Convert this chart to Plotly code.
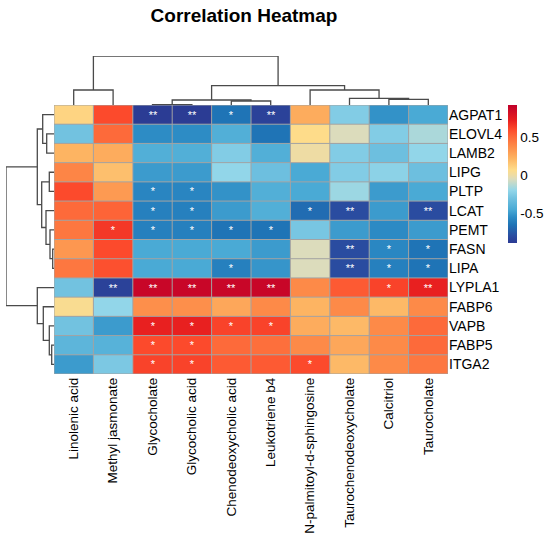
import plotly.graph_objects as go

# columns (metabolites) and rows (genes) in dendrogram order
metabolites = ["Linolenic acid", "Methyl jasmonate", "Glycocholate", "Glycocholic acid",
               "Chenodeoxycholic acid", "Leukotriene b4", "N-palmitoyl-d-sphingosine",
               "Taurochenodeoxycholate", "Calcitriol", "Taurocholate"]
genes = ["AGPAT1", "ELOVL4", "LAMB2", "LIPG", "PLTP", "LCAT", "PEMT",
         "FASN", "LIPA", "LYPLA1", "FABP6", "VAPB", "FABP5", "ITGA2"]

corr = [
    [0.10, 0.60, -0.88, -0.88, -0.65, -0.85, 0.25, -0.25, -0.53, -0.45],
    [-0.30, 0.50, -0.55, -0.55, -0.42, -0.65, 0.07, -0.05, -0.25, -0.15],
    [0.22, 0.25, -0.42, -0.42, -0.25, -0.42, 0.00, -0.25, -0.32, -0.20],
    [0.40, 0.18, -0.50, -0.50, -0.20, -0.32, -0.45, -0.25, -0.22, -0.32],
    [0.60, 0.32, -0.58, -0.58, -0.53, -0.42, -0.45, -0.18, -0.50, -0.45],
    [0.50, 0.52, -0.60, -0.60, -0.50, -0.42, -0.68, -0.80, -0.50, -0.80],
    [0.45, 0.65, -0.60, -0.60, -0.65, -0.65, -0.28, -0.50, -0.56, -0.50],
    [0.33, 0.60, -0.45, -0.45, -0.45, -0.50, -0.05, -0.80, -0.57, -0.65],
    [0.45, 0.58, -0.45, -0.45, -0.60, -0.52, -0.05, -0.80, -0.60, -0.65],
    [-0.30, -0.85, 0.88, 0.88, 0.88, 0.88, 0.38, 0.55, 0.62, 0.72],
    [0.05, -0.20, 0.36, 0.36, 0.27, 0.38, 0.22, 0.38, 0.20, 0.38],
    [-0.30, -0.50, 0.72, 0.72, 0.62, 0.62, 0.25, 0.20, 0.38, 0.50],
    [-0.38, -0.40, 0.60, 0.60, 0.50, 0.48, 0.38, 0.27, 0.38, 0.50],
    [-0.50, -0.27, 0.62, 0.62, 0.55, 0.55, 0.60, 0.20, 0.38, 0.45],
]

signif = [
    ["", "", "**", "**", "*", "**", "", "", "", ""],
    ["", "", "", "", "", "", "", "", "", ""],
    ["", "", "", "", "", "", "", "", "", ""],
    ["", "", "", "", "", "", "", "", "", ""],
    ["", "", "*", "*", "", "", "", "", "", ""],
    ["", "", "*", "*", "", "", "*", "**", "", "**"],
    ["", "*", "*", "*", "*", "*", "", "", "", ""],
    ["", "", "", "", "", "", "", "**", "*", "*"],
    ["", "", "", "", "*", "", "", "**", "*", "*"],
    ["", "**", "**", "**", "**", "**", "", "", "*", "**"],
    ["", "", "", "", "", "", "", "", "", ""],
    ["", "", "*", "*", "*", "*", "", "", "", ""],
    ["", "", "*", "*", "", "", "", "", "", ""],
    ["", "", "*", "*", "", "", "*", "", "", ""],
]

# linkage tables: (left id, right id, height); new clusters numbered after leaves
col_links = [(2, 3, 0.3), (4, 5, 4), (10, 11, 5), (8, 9, 5.7), (7, 13, 6.7),
             (6, 14, 15), (0, 1, 15), (12, 15, 19.3), (16, 17, 49)]
row_links = [(1, 2, 7.3), (0, 14, 11.3), (3, 4, 4.7), (7, 8, 1.3), (6, 17, 4),
             (5, 18, 8), (16, 19, 12.3), (15, 20, 16.7), (12, 13, 2.3), (11, 22, 4.7),
             (10, 23, 10.7), (9, 24, 16.7), (21, 25, 48)]

zmin, zmax = -0.89, 0.92
color_stops = [(-0.89, "#2b3a93"), (-0.80, "#2a4ca0"), (-0.65, "#1f74b6"), (-0.55, "#2d8cc5"),
               (-0.45, "#4aaad5"), (-0.30, "#72c2e0"), (-0.20, "#92d6e9"), (-0.05, "#dcdcbc"),
               (0.00, "#eedca4"), (0.07, "#fedc8a"), (0.22, "#fdb462"), (0.38, "#fd8a48"),
               (0.50, "#fd6a3a"), (0.60, "#fc4a2c"), (0.72, "#e82020"), (0.92, "#c0002a")]
colorscale = [[(v - zmin) / (zmax - zmin), c] for v, c in color_stops]


def dendro_lines(links, n):
    pos = {i: float(i) for i in range(n)}
    hgt = {i: 0.0 for i in range(n)}
    p, h = [], []
    for k, (a, b, d) in enumerate(links):
        p += [pos[a], pos[a], pos[b], pos[b], None]
        h += [hgt[a], d, d, hgt[b], None]
        pos[n + k] = (pos[a] + pos[b]) / 2
        hgt[n + k] = d
    return p, h


W, H = 550, 542
hx0, hx1 = 54, 448
hy0, hy1 = 105, 374
font = "Liberation Sans, Arial, sans-serif"

fig = go.Figure()
fig.add_trace(go.Heatmap(
    z=corr, x=list(range(len(metabolites))), y=list(range(len(genes))),
    text=signif, texttemplate="%{text}", textfont=dict(color="white", size=11, family=font),
    colorscale=colorscale, zmin=zmin, zmax=zmax, xaxis="x", yaxis="y",
    colorbar=dict(x=508 / W, xanchor="left", y=1 - hy0 / H, yanchor="top",
                  xpad=0, ypad=0, lenmode="pixels", len=138, thickness=9, outlinewidth=0,
                  tickvals=[-0.5, 0, 0.5], ticktext=["-0.5", "0", "0.5"], ticks="",
                  tickfont=dict(size=13.5, family=font, color="black")),
    hoverongaps=False,
))

# cell borders
for i in range(len(metabolites) + 1):
    fig.add_shape(type="line", xref="x", yref="y", x0=i - 0.5, x1=i - 0.5,
                  y0=-0.5, y1=len(genes) - 0.5, line=dict(color="#a3a3a3", width=1))
for j in range(len(genes) + 1):
    fig.add_shape(type="line", xref="x", yref="y", x0=-0.5, x1=len(metabolites) - 0.5,
                  y0=j - 0.5, y1=j - 0.5, line=dict(color="#a3a3a3", width=1))

cx, ch = dendro_lines(col_links, len(metabolites))
fig.add_trace(go.Scatter(x=cx, y=ch, mode="lines", xaxis="x2", yaxis="y2",
                         line=dict(color="#4a4a4a", width=1.3), cliponaxis=False, hoverinfo="skip"))
ry, rh = dendro_lines(row_links, len(genes))
fig.add_trace(go.Scatter(x=rh, y=ry, mode="lines", xaxis="x3", yaxis="y3",
                         line=dict(color="#4a4a4a", width=1.3), cliponaxis=False, hoverinfo="skip"))

hid = dict(showgrid=False, zeroline=False, showticklabels=False, ticks="", showline=False,
           automargin=False)
fig.update_layout(
    width=W, height=H, margin=dict(l=0, r=0, t=0, b=0, autoexpand=False),
    paper_bgcolor="white", plot_bgcolor="white", showlegend=False,
    title=dict(text="<b>Correlation Heatmap</b>", x=244 / W, xanchor="center",
               y=1 - 15 / H, yanchor="middle", font=dict(size=19, family=font, color="black")),
    xaxis=dict(domain=[hx0 / W, hx1 / W], range=[-0.5, len(metabolites) - 0.5],
               tickvals=list(range(len(metabolites))), ticktext=metabolites, tickangle=-90,
               tickfont=dict(size=13.5, family=font, color="black"), ticks="",
               showgrid=False, zeroline=False, anchor="y", automargin=False),
    yaxis=dict(domain=[1 - hy1 / H, 1 - hy0 / H], range=[len(genes) - 0.5, -0.5],
               tickvals=list(range(len(genes))), ticktext=genes, side="right",
               tickfont=dict(size=14, family=font, color="black"), ticks="",
               showgrid=False, zeroline=False, anchor="x", automargin=False),
    xaxis2=dict(domain=[hx0 / W, hx1 / W], range=[-0.5, len(metabolites) - 0.5], anchor="y2", **hid),
    yaxis2=dict(domain=[1 - hy0 / H, 1 - 56 / H], range=[0, 49], anchor="x2", **hid),
    xaxis3=dict(domain=[6 / W, hx0 / W], range=[48, 0], anchor="y3", **hid),
    yaxis3=dict(domain=[1 - hy1 / H, 1 - hy0 / H], range=[len(genes) - 0.5, -0.5], anchor="x3", **hid),
)

# the page body has a default margin; drop it so the figure sits at the window origin
fig.write_html("out.html", config={"displayModeBar": False},
               post_script="document.body.style.margin='0px';")
